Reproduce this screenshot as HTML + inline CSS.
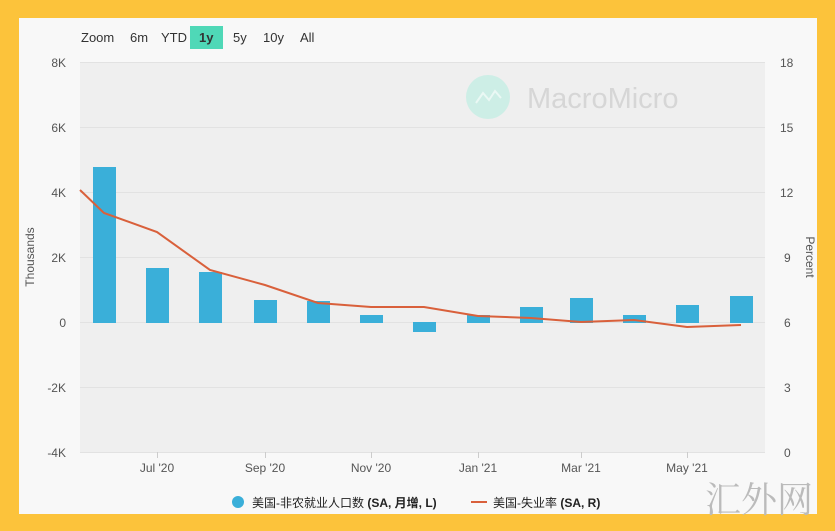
<!DOCTYPE html>
<html><head><meta charset="utf-8"><style>
body{margin:0;width:835px;height:531px;background:#fcc33b;overflow:hidden;font-family:"Liberation Sans","Noto Sans CJK SC",sans-serif}
</style></head><body>
<svg width="835" height="531" xmlns="http://www.w3.org/2000/svg" style="position:absolute;left:0;top:0">
<rect x="19" y="18" width="798" height="496" fill="#f8f8f8"/>
<rect x="80" y="62" width="685" height="390" fill="#efefef"/>
<g stroke="#e2e2e2" stroke-width="1">
<line x1="80" x2="765" y1="62.5" y2="62.5"/><line x1="80" x2="765" y1="127.5" y2="127.5"/><line x1="80" x2="765" y1="192.5" y2="192.5"/><line x1="80" x2="765" y1="257.5" y2="257.5"/><line x1="80" x2="765" y1="322.5" y2="322.5"/><line x1="80" x2="765" y1="387.5" y2="387.5"/><line x1="80" x2="765" y1="452.5" y2="452.5"/>
</g>
<circle cx="488" cy="97" r="22" fill="#cdeee6"/>
<polyline points="476,103 483,93 489,100 495,91 501,98" fill="none" stroke="#eaf8f4" stroke-width="2"/>
<text x="527" y="108" font-size="29" fill="#d6d6d6">MacroMicro</text>
<g font-size="13" fill="#333">
<text x="81" y="42">Zoom</text><text x="130" y="42">6m</text><text x="161" y="42">YTD</text>
<rect x="190" y="26" width="33" height="23" fill="#4fd8b7"/><text x="199" y="42" font-weight="bold">1y</text>
<text x="233" y="42">5y</text><text x="263" y="42">10y</text><text x="300" y="42">All</text>
</g>
<g font-size="12" fill="#555" text-anchor="end">
<text x="66" y="67">8K</text><text x="66" y="132">6K</text><text x="66" y="197">4K</text><text x="66" y="262">2K</text><text x="66" y="327">0</text><text x="66" y="392">-2K</text><text x="66" y="457">-4K</text>
</g>
<g font-size="12" fill="#555">
<text x="780" y="67">18</text><text x="780" y="132">15</text><text x="780" y="197">12</text><text x="784" y="262">9</text><text x="784" y="327">6</text><text x="784" y="392">3</text><text x="784" y="457">0</text>
</g>
<text transform="translate(34,257) rotate(-90)" font-size="12" fill="#555" text-anchor="middle">Thousands</text>
<text transform="translate(806,257) rotate(90)" font-size="12" fill="#555" text-anchor="middle">Percent</text>
<g font-size="12" fill="#555" text-anchor="middle">
<text x="157" y="472">Jul '20</text><text x="265" y="472">Sep '20</text><text x="371" y="472">Nov '20</text><text x="478" y="472">Jan '21</text><text x="581" y="472">Mar '21</text><text x="687" y="472">May '21</text>
</g>
<g stroke="#ccc"><line x1="157.5" x2="157.5" y1="452" y2="458"/><line x1="265.5" x2="265.5" y1="452" y2="458"/><line x1="371.5" x2="371.5" y1="452" y2="458"/><line x1="478.5" x2="478.5" y1="452" y2="458"/><line x1="581.5" x2="581.5" y1="452" y2="458"/><line x1="687.5" x2="687.5" y1="452" y2="458"/></g>
<g fill="#3aafd9">
<rect x="93" y="167" width="23" height="156"/>
<rect x="146" y="268" width="23" height="55"/>
<rect x="199" y="272" width="23" height="51"/>
<rect x="254" y="300" width="23" height="23"/>
<rect x="307" y="301" width="23" height="22"/>
<rect x="360" y="315" width="23" height="8"/>
<rect x="413" y="322" width="23" height="10"/>
<rect x="467" y="315" width="23" height="8"/>
<rect x="520" y="307" width="23" height="16"/>
<rect x="570" y="298" width="23" height="25"/>
<rect x="623" y="315" width="23" height="8"/>
<rect x="676" y="305" width="23" height="18"/>
<rect x="730" y="296" width="23" height="27"/>
</g>
<polyline fill="none" stroke="#d9603b" stroke-width="2" points="80,190 104,213 157,232 210,270 265,285 318,303 371,307 424,307 478,316 531,318 581,322 634,320 687,327 741,325"/>
<circle cx="238" cy="502" r="6" fill="#3aafd9"/>
<text x="252" y="507" font-size="12" fill="#222">美国-非农就业人口数 <tspan font-weight="bold">(SA, 月增, L)</tspan></text>
<line x1="471" x2="487" y1="502" y2="502" stroke="#d9603b" stroke-width="2"/>
<text x="493" y="507" font-size="12" fill="#222">美国-失业率 <tspan font-weight="bold">(SA, R)</tspan></text>
<text x="705" y="512" font-size="36" fill="#bbb" font-family="Noto Serif CJK SC,serif">汇外网</text>
</svg>
</body></html>
